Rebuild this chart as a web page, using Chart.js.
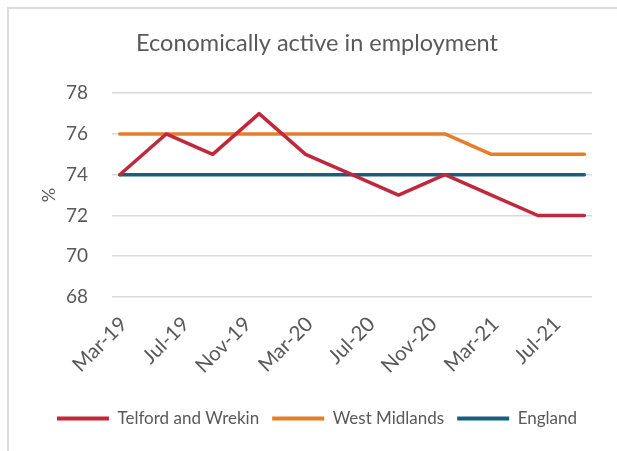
<!DOCTYPE html>
<html>
<head>
<meta charset="utf-8">
<script src="https://cdn.jsdelivr.net/npm/chart.js@4"></script>
<style>
  html, body { margin: 0; padding: 0; background: #ffffff; }
  #wrap { width: 617px; height: 451px; }
</style>
</head>
<body>
<div id="wrap"><canvas id="employmentChart" width="617" height="451"></canvas></div>
<script>
// every month on the axis, Mar-19 .. Sep-21
const months = [
    'Mar-19', 'Apr-19', 'May-19', 'Jun-19', 'Jul-19', 'Aug-19', 'Sep-19', 'Oct-19', 'Nov-19', 'Dec-19',
    'Jan-20', 'Feb-20', 'Mar-20', 'Apr-20', 'May-20', 'Jun-20', 'Jul-20', 'Aug-20', 'Sep-20', 'Oct-20',
    'Nov-20', 'Dec-20', 'Jan-21', 'Feb-21', 'Mar-21', 'Apr-21', 'May-21', 'Jun-21', 'Jul-21', 'Aug-21',
    'Sep-21'
];
const tickLabels = ['Mar-19', 'Jul-19', 'Nov-19', 'Mar-20', 'Jul-20', 'Nov-20', 'Mar-21', 'Jul-21'];

// quarterly readings
const quarters = ['Mar-19', 'Jun-19', 'Sep-19', 'Dec-19', 'Mar-20', 'Jun-20', 'Sep-20', 'Dec-20', 'Mar-21', 'Jun-21', 'Sep-21'];
const telford = [74, 76, 75, 77, 75, 74, 73, 74, 73, 72, 72];
const westMidlands = [76, 76, 76, 76, 76, 76, 76, 76, 75, 75, 75];
const england = [74, 74, 74, 74, 74, 74, 74, 74, 74, 74, 74];

const textColor = '#595959';
const font = 'Lato, "Open Sans", sans-serif';

const toPoints = (values) => values.map((v, i) => ({ x: quarters[i], y: v }));

// light frame round the chart, like the Excel chart border
const framePlugin = {
    id: 'frame',
    beforeDraw(chart) {
        const c = chart.ctx;
        c.save();
        c.fillStyle = '#ffffff';
        c.fillRect(0, 0, chart.width, chart.height);
        c.strokeStyle = '#dcdcdc';
        c.lineWidth = 2;
        c.strokeRect(8, 8, 700, 700);
        c.restore();
    }
};

document.addEventListener('DOMContentLoaded', () => {
    const ctx = document.getElementById('employmentChart').getContext('2d');
    const employmentChart = new Chart(ctx, {
        type: 'line',
        data: {
            labels: months,
            datasets: [{
                label: 'Telford and Wrekin',
                data: toPoints(telford),
                borderColor: '#c0283c',
                backgroundColor: '#c0283c'
            }, {
                label: 'West Midlands',
                data: toPoints(westMidlands),
                borderColor: '#e37f2b',
                backgroundColor: '#e37f2b'
            }, {
                label: 'England',
                data: toPoints(england),
                borderColor: '#17607c',
                backgroundColor: '#17607c'
            }]
        },
        options: {
            responsive: false,
            animation: false,
            layout: { padding: { left: 34, right: 17, top: 0, bottom: 14 } },
            elements: {
                line: { borderWidth: 3.5, tension: 0, fill: false, borderCapStyle: 'round', borderJoinStyle: 'round' },
                point: { radius: 0, hoverRadius: 0 }
            },
            scales: {
                x: {
                    offset: true,
                    grid: { display: false, drawTicks: false },
                    border: { display: false },
                    ticks: {
                        autoSkip: false,
                        minRotation: 45,
                        maxRotation: 45,
                        padding: 15,
                        labelOffset: 4,
                        color: textColor,
                        font: { family: font, size: 20.5 },
                        callback: function(value) {
                            const label = this.getLabelForValue(value);
                            return tickLabels.includes(label) ? label : '';
                        }
                    },
                    afterFit: (scale) => { scale.height = 100; }
                },
                y: {
                    min: 68,
                    max: 78,
                    grid: { color: '#d9d9d9', lineWidth: 1.5, drawTicks: false, tickLength: 0 },
                    border: { display: false },
                    ticks: {
                        stepSize: 2,
                        padding: 24,
                        color: textColor,
                        font: { family: font, size: 19 }
                    },
                    title: {
                        display: true,
                        text: '%',
                        color: textColor,
                        font: { family: font, size: 18 },
                        padding: { top: 4, bottom: 0 }
                    },
                    afterFit: (scale) => { scale.width = 78; }
                }
            },
            plugins: {
                title: {
                    display: true,
                    text: 'Economically active in employment',
                    color: textColor,
                    font: { family: font, size: 23.5, weight: 'normal' },
                    padding: { top: 29, bottom: 36 }
                },
                legend: {
                    position: 'bottom',
                    labels: {
                        boxWidth: 52,
                        boxHeight: 4,
                        padding: 13,
                        color: textColor,
                        font: { family: font, size: 17 },
                        generateLabels: (chart) => chart.data.datasets.map((ds, i) => ({
                            text: ds.label,
                            fillStyle: ds.borderColor,
                            strokeStyle: ds.borderColor,
                            lineWidth: 0,
                            fontColor: textColor,
                            datasetIndex: i,
                            hidden: false
                        }))
                    }
                },
                tooltip: { enabled: false }
            }
        },
        plugins: [framePlugin]
    });
});
</script>
</body>
</html>
